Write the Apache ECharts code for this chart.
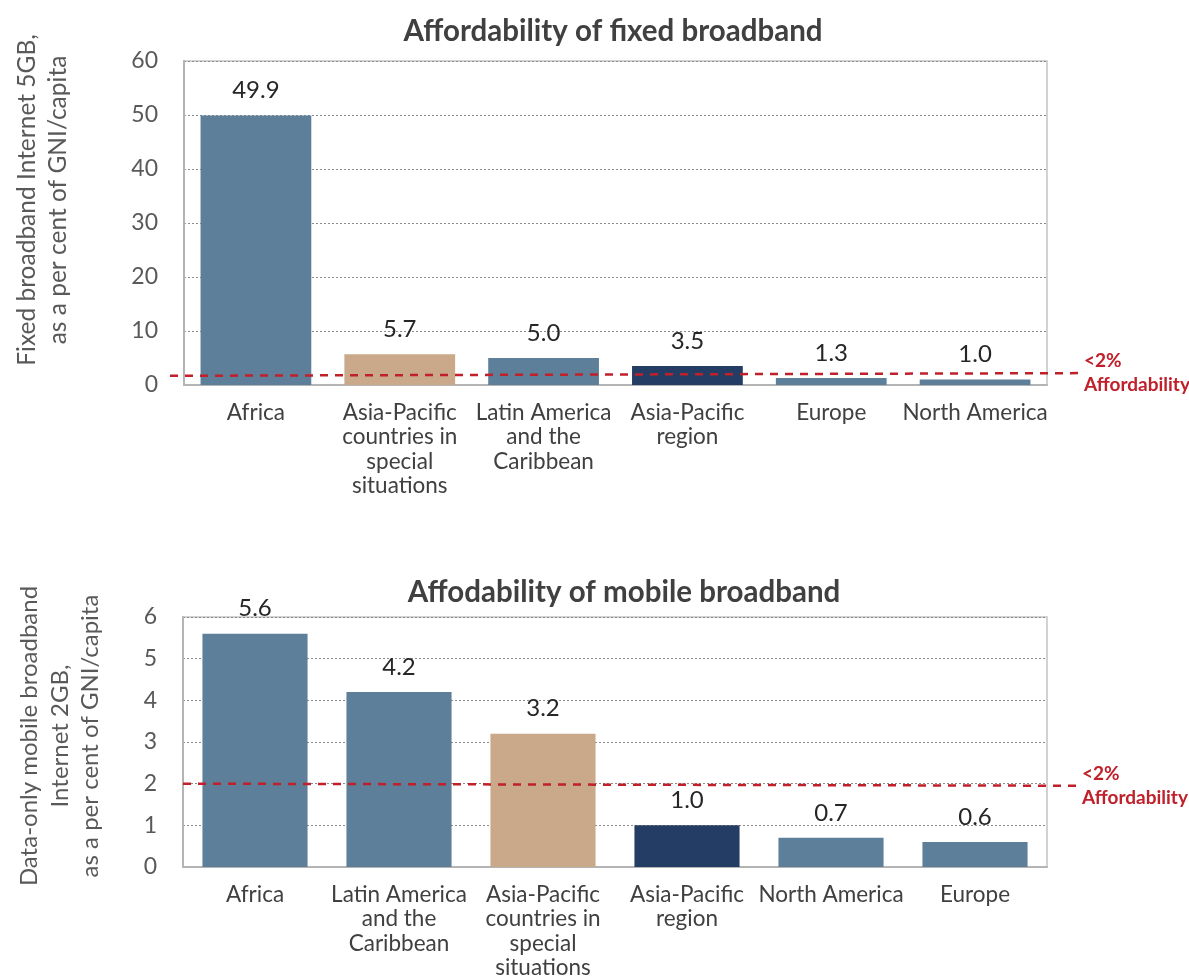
<!DOCTYPE html>
<html>
<head>
<meta charset="utf-8">
<script src="https://cdn.jsdelivr.net/npm/echarts@6/dist/echarts.min.js"></script>
<style>
  html, body { margin: 0; padding: 0; background: #fff; }
  #chart { width: 1189px; height: 980px; }
</style>
</head>
<body>
<div id="chart"></div>
<script>
// fixed broadband (top)
var fixedCats = ['Africa', 'Asia-Pacific\ncountries in\nspecial\nsituations', 'Latin America\nand the\nCaribbean', 'Asia-Pacific\nregion', 'Europe', 'North America'];
var fixedVals = [49.9, 5.7, 5.0, 3.5, 1.3, 1.0];
// mobile broadband (bottom)
var mobileCats = ['Africa', 'Latin America\nand the\nCaribbean', 'Asia-Pacific\ncountries in\nspecial\nsituations', 'Asia-Pacific\nregion', 'North America', 'Europe'];
var mobileVals = [5.6, 4.2, 3.2, 1.0, 0.7, 0.6];
var threshold = 2;

var BLUE = '#5E7F9A', TAN = '#C9A98A', NAVY = '#243D64', RED = '#C0202A';
var fixedColors = [BLUE, TAN, BLUE, NAVY, BLUE, BLUE];
var mobileColors = [BLUE, BLUE, TAN, NAVY, BLUE, BLUE];

var FONT = 'Lato';

function yAxisCfg(gi, max, interval) {
    return {
        gridIndex: gi, type: 'value', min: 0, max: max, interval: interval,
        axisLine: { show: true, lineStyle: { color: '#b4b4b4', width: 2 } },
        axisTick: { show: false },
        axisLabel: { color: '#595959', fontSize: 23, fontFamily: FONT, margin: 26 },
        splitLine: { show: true, lineStyle: { color: '#8c8c8c', type: [2, 2], width: 1 } }
    };
}
function xAxisCfg(gi, cats) {
    return {
        gridIndex: gi, type: 'category', data: cats,
        axisLine: { show: true, lineStyle: { color: '#b4b4b4', width: 2 } },
        axisTick: { show: false },
        axisLabel: { color: '#404040', fontSize: 22.5, fontFamily: FONT, lineHeight: 24.5, margin: 15, interval: 0 }
    };
}
function barSeries(gi, vals, colors, gap, lineData) {
    return {
        type: 'bar', xAxisIndex: gi, yAxisIndex: gi,
        barCategoryGap: gap,
        data: vals.map(function (v, i) { return { value: v, itemStyle: { color: colors[i] } }; }),
        label: {
            show: true, position: 'top', distance: 13,
            color: '#262626', fontSize: 24, fontFamily: FONT,
            formatter: function (p) { return p.value.toFixed(1); }
        },
        markLine: {
            silent: true, symbol: 'none', animation: false,
            lineStyle: { color: RED, type: [8, 7], width: 2.5 },
            label: {
                show: true, position: 'end', distance: 6,
                formatter: '<2%\nAffordability',
                color: RED, fontWeight: 'bold', fontSize: 19, fontFamily: FONT,
                lineHeight: 24, align: 'left'
            },
            data: [lineData]
        }
    };
}

var chart = echarts.init(document.getElementById('chart'));
chart.setOption({
    animation: false,
    title: [
        { text: 'Affordability of fixed broadband', left: 608, top: 11, textAlign: 'center',
          textStyle: { fontFamily: FONT, fontWeight: 'bold', fontSize: 29.5, color: '#404040' } },
        { text: 'Affodability of mobile broadband', left: 619, top: 572, textAlign: 'center',
          textStyle: { fontFamily: FONT, fontWeight: 'bold', fontSize: 29.5, color: '#404040' } }
    ],
    grid: [
        { left: 184, top: 61, width: 863, height: 324, show: true, borderColor: '#c4c4c4', borderWidth: 1.5 },
        { left: 183, top: 617, width: 864, height: 253, show: true, borderColor: '#c4c4c4', borderWidth: 1.5 }
    ],
    xAxis: [xAxisCfg(0, fixedCats), xAxisCfg(1, mobileCats)],
    yAxis: [yAxisCfg(0, 60, 10), yAxisCfg(1, 6, 1)],
    series: [
        barSeries(0, fixedVals, fixedColors, '23%', [{ x: 170, yAxis: threshold - 0.3 }, { x: 1078, yAxis: threshold + 0.2 }]),
        barSeries(1, mobileVals, mobileColors, '27%', [{ x: 183, yAxis: threshold }, { x: 1076, yAxis: threshold - 0.05 }])
    ],
    graphic: [
        { type: 'text', x: 43, y: 200, rotation: Math.PI / 2,
          style: { text: 'Fixed broadband Internet 5GB,\nas a per cent of GNI/capita', align: 'center', verticalAlign: 'middle',
                   fill: '#595959', fontSize: 24.5, fontFamily: FONT, lineHeight: 31 } },
        { type: 'text', x: 60, y: 736, rotation: Math.PI / 2,
          style: { text: 'Data-only mobile broadband\nInternet 2GB,\nas a per cent of GNI/capita', align: 'center', verticalAlign: 'middle',
                   fill: '#595959', fontSize: 24, fontFamily: FONT, lineHeight: 30.5 } }
    ]
});
</script>
</body>
</html>
